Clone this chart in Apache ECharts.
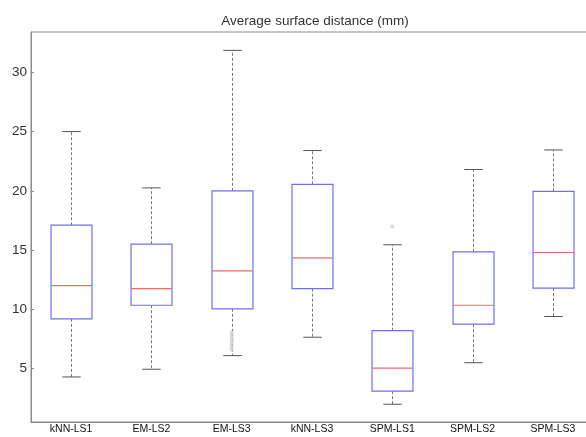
<!DOCTYPE html>
<html>
<head>
<meta charset="utf-8">
<script src="https://cdn.jsdelivr.net/npm/echarts@6/dist/echarts.min.js"></script>
<style>
  html, body { margin: 0; padding: 0; background: #fff; overflow: hidden; }
  #chart { width: 600px; height: 437px; }
</style>
</head>
<body>
<div id="chart"></div>
<script>
// Methods compared
const categories = ['kNN-LS1', 'EM-LS2', 'EM-LS3', 'kNN-LS3', 'SPM-LS1', 'SPM-LS2', 'SPM-LS3'];

// Five-number summaries per method (mm)
const lowerWhisker = [4.3, 4.95, 6.1, 7.65, 2.0, 5.5, 9.4];
const lowerQuartile = [9.2, 10.35, 10.05, 11.75, 3.1, 8.75, 11.8];
const medians = [12.0, 11.75, 13.25, 14.35, 5.05, 10.35, 14.8];
const upperQuartile = [17.1, 15.5, 20.0, 20.55, 8.2, 14.85, 19.95];
const upperWhisker = [25.0, 20.25, 31.85, 23.4, 15.45, 21.8, 23.45];

// Outlying observations: [method index, value]
const outliers = [
  [2, 6.6], [2, 6.85], [2, 7.1], [2, 7.35], [2, 7.6], [2, 7.85], [2, 8.05],
  [4, 17.0]
];

const yTicks = [5, 10, 15, 20, 25, 30];

const boxData = categories.map((c, i) => [i, lowerWhisker[i], lowerQuartile[i], medians[i], upperQuartile[i], upperWhisker[i]]);

const chart = echarts.init(document.getElementById('chart'), null, { renderer: 'canvas' });

function renderBox(params, api) {
  const idx = api.value(0);
  const lo = api.coord([idx, api.value(1)]);
  const q1 = api.coord([idx, api.value(2)]);
  const md = api.coord([idx, api.value(3)]);
  const q3 = api.coord([idx, api.value(4)]);
  const hi = api.coord([idx, api.value(5)]);
  const band = api.size([1, 0])[0];
  const x = Math.round(lo[0]) + 0.5;
  const bh = band * 0.255;
  const ch = band * 0.115;
  const whisker = { stroke: '#777', lineWidth: 1, lineDash: [3, 2] };
  const cap = { stroke: '#555', lineWidth: 1 };
  return {
    type: 'group',
    children: [
      { type: 'line', shape: { x1: x, y1: q3[1], x2: x, y2: hi[1] }, style: whisker },
      { type: 'line', shape: { x1: x, y1: q1[1], x2: x, y2: lo[1] }, style: whisker },
      { type: 'line', shape: { x1: x - ch, y1: hi[1], x2: x + ch, y2: hi[1] }, style: cap },
      { type: 'line', shape: { x1: x - ch, y1: lo[1], x2: x + ch, y2: lo[1] }, style: cap },
      { type: 'rect', shape: { x: x - bh, y: q3[1], width: 2 * bh, height: q1[1] - q3[1] },
        style: { fill: '#fff', stroke: '#6f6ff2', lineWidth: 1.2 } },
      { type: 'line', shape: { x1: x - bh, y1: md[1], x2: x + bh, y2: md[1] },
        style: { stroke: '#f06a6a', lineWidth: 1.2 } }
    ]
  };
}

chart.setOption({
  animation: false,
  backgroundColor: '#ffffff',
  title: {
    text: 'Average surface distance (mm)',
    left: 310,
    textAlign: 'center',
    top: 9,
    textStyle: { fontFamily: 'Liberation Sans, Arial, sans-serif', fontSize: 13.5, fontWeight: 'normal', color: '#333' }
  },
  grid: {
    left: 31, top: 32, width: 562, height: 390,
    outerBoundsMode: 'none',
    show: true, borderColor: '#8a8a8a', borderWidth: 1, backgroundColor: 'transparent'
  },
  xAxis: {
    type: 'category',
    data: categories,
    boundaryGap: true,
    axisLine: { show: true, lineStyle: { color: '#8a8a8a' } },
    axisTick: { show: false },
    axisLabel: {
      margin: 2,
      fontFamily: 'Liberation Sans Narrow, Liberation Sans, Arial, sans-serif',
      fontSize: 10.5,
      color: '#111'
    },
    splitLine: { show: false }
  },
  yAxis: {
    type: 'value',
    min: 0.5,
    max: 33.4,
    axisLine: { show: true, lineStyle: { color: '#8a8a8a' } },
    axisTick: { show: true, inside: true, length: 3, customValues: yTicks, lineStyle: { color: '#8a8a8a' } },
    axisLabel: {
      customValues: yTicks,
      margin: 4,
      fontFamily: 'Liberation Sans, Arial, sans-serif',
      fontSize: 13.5,
      color: '#333'
    },
    splitLine: { show: false }
  },
  series: [
    {
      type: 'custom',
      renderItem: renderBox,
      encode: { x: 0, y: [1, 2, 3, 4, 5] },
      data: boxData,
      z: 2
    },
    {
      type: 'scatter',
      data: outliers,
      symbol: 'circle',
      symbolSize: 4,
      itemStyle: { color: '#cfcfcf' },
      z: 3
    }
  ]
});
</script>
</body>
</html>
